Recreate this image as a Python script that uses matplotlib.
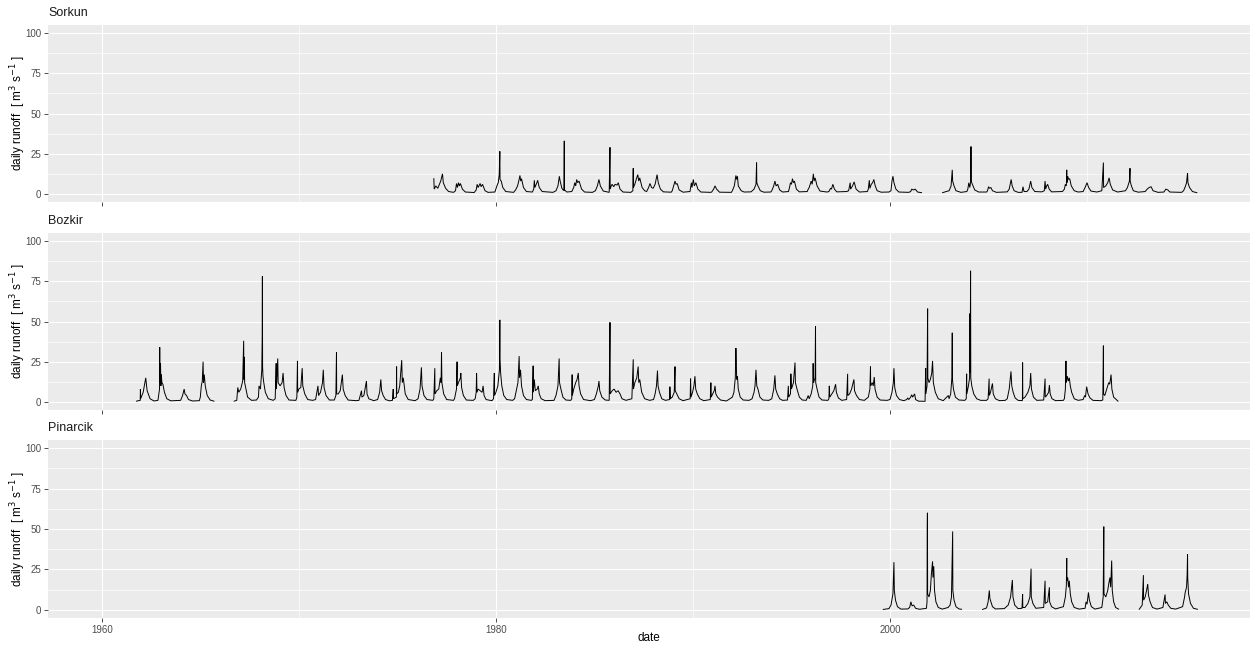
import numpy as np
import matplotlib
matplotlib.use("Agg")
import matplotlib.pyplot as plt
from matplotlib.ticker import FixedLocator

nan = np.nan

# ---- data: (decimal year, daily runoff m3/s) vertices ----
sorkun = [
(1976.85, 9.5), (1976.87, 3), (1976.95, 5), (1977.05, 3.5), (1977.2, 8), (1977.29, 12.5), (1977.33, 7), (1977.45, 3.5), (1977.6, 1.5), (1977.85, 1.0),
(1977.95, 2), (1978.0, 6.5), (1978.05, 4), (1978.1, 7), (1978.15, 5), (1978.2, 6.5), (1978.3, 3), (1978.45, 1.2), (1978.9, 0.9),
(1979.0, 2.5), (1979.05, 6), (1979.1, 4), (1979.2, 6.5), (1979.25, 4.5), (1979.32, 6), (1979.45, 2), (1979.6, 1.0), (1979.95, 1.2),
(1980.0, 3), (1980.05, 5), (1980.12, 7), (1980.17, 12), (1980.2, 26.5), (1980.21, 9), (1980.27, 8), (1980.35, 4), (1980.5, 1.5), (1980.9, 1.0),
(1981.0, 2.5), (1981.1, 5), (1981.18, 9), (1981.22, 11.5), (1981.26, 8), (1981.3, 9.5), (1981.4, 4), (1981.55, 1.5), (1981.85, 1.2),
(1981.92, 3), (1981.95, 8.5), (1981.98, 4), (1982.08, 7), (1982.12, 8.5), (1982.2, 4), (1982.35, 1.5), (1982.9, 1.0),
(1983.05, 2), (1983.15, 5), (1983.22, 11), (1983.26, 8), (1983.35, 3.5), (1983.45, 2), (1983.47, 33), (1983.48, 2.5), (1983.6, 1.2),
(1983.85, 1.5), (1983.95, 4), (1984.0, 7), (1984.05, 5), (1984.1, 9), (1984.15, 7), (1984.22, 8), (1984.35, 3), (1984.5, 1.2), (1984.9, 1.0),
(1985.05, 2), (1985.15, 5), (1985.23, 9), (1985.3, 5), (1985.45, 1.8), (1985.75, 1.0), (1985.79, 29), (1985.8, 3),
(1985.85, 5), (1985.9, 6), (1985.98, 4.5), (1986.05, 6), (1986.15, 5.5), (1986.21, 7), (1986.3, 3), (1986.45, 1.2), (1986.85, 1.0),
(1986.95, 2), (1986.97, 16), (1986.98, 4), (1987.05, 6), (1987.12, 9), (1987.2, 12), (1987.25, 8), (1987.3, 10), (1987.42, 4), (1987.55, 2),
(1987.65, 1.5), (1987.75, 4), (1987.82, 6.5), (1987.9, 4), (1987.98, 3.5), (1988.08, 6), (1988.18, 12), (1988.24, 7), (1988.35, 3), (1988.5, 1.3), (1988.9, 1.1),
(1988.95, 2), (1989.02, 5), (1989.09, 8), (1989.14, 6), (1989.2, 6.5), (1989.3, 2.5), (1989.5, 1.1),
(1989.85, 1.5), (1989.92, 7), (1989.95, 4), (1990.02, 9), (1990.07, 5), (1990.15, 7), (1990.25, 3), (1990.4, 1.2), (1990.9, 1.0),
(1990.95, 1.2), (1991.05, 3), (1991.12, 5), (1991.2, 3), (1991.35, 1.1), (1991.95, 1.0),
(1992.0, 2), (1992.1, 5), (1992.18, 11.5), (1992.22, 9), (1992.26, 11), (1992.3, 5), (1992.45, 2), (1992.6, 1.2), (1992.95, 1.3),
(1993.1, 3), (1993.2, 6), (1993.23, 19.5), (1993.24, 7), (1993.3, 5), (1993.42, 2), (1993.6, 1.1), (1993.95, 1.2),
(1994.0, 2), (1994.1, 5), (1994.16, 8), (1994.22, 5), (1994.3, 6), (1994.4, 2.5), (1994.55, 1.2), (1994.85, 1.5),
(1994.9, 4), (1994.95, 7), (1995.0, 6), (1995.05, 9.5), (1995.1, 7), (1995.15, 8), (1995.25, 3), (1995.4, 1.3), (1995.8, 1.5),
(1995.85, 3), (1995.9, 4), (1996.0, 8), (1996.05, 6), (1996.11, 12.5), (1996.15, 8), (1996.2, 10), (1996.3, 5), (1996.45, 1.8), (1996.8, 1.2),
(1996.9, 1.5), (1996.98, 3.5), (1997.03, 3), (1997.1, 6), (1997.18, 3), (1997.3, 1.3), (1997.8, 1.5),
(1997.9, 2), (1997.98, 7), (1998.0, 3), (1998.1, 5), (1998.18, 7.5), (1998.28, 3), (1998.45, 1.2), (1998.85, 1.5),
(1998.9, 3), (1998.95, 8.5), (1998.98, 3.5), (1999.05, 6), (1999.12, 7), (1999.18, 9), (1999.25, 5), (1999.35, 2), (1999.55, 1.1), (1999.95, 1.2),
(2000.05, 2), (2000.1, 8), (2000.15, 11), (2000.2, 7), (2000.3, 3), (2000.45, 1.2), (2000.95, 1.0),
(2001.05, 1.5), (2001.1, 3), (2001.2, 2.5), (2001.28, 3), (2001.4, 1.2), (2001.6, 0.8), (2001.61, nan),
(2002.67, 0.8), (2002.85, 1.5), (2003.0, 2), (2003.1, 5), (2003.16, 15), (2003.18, 8), (2003.25, 5), (2003.35, 2), (2003.6, 1.0), (2003.9, 1.5),
(2003.95, 3), (2004.0, 7), (2004.05, 4), (2004.1, 8), (2004.11, 29.5), (2004.12, 8), (2004.18, 6), (2004.3, 2.5), (2004.5, 1.2), (2004.9, 1.2),
(2004.95, 2), (2005.0, 4.5), (2005.05, 3.5), (2005.12, 4), (2005.2, 2), (2005.4, 1.0), (2005.95, 1.3),
(2006.05, 3), (2006.15, 9), (2006.2, 5), (2006.3, 2), (2006.5, 1.0),
(2006.7, 1), (2006.75, 4.5), (2006.8, 1.5), (2006.95, 1.5), (2007.05, 3), (2007.14, 8), (2007.2, 4), (2007.35, 1.5), (2007.7, 1.3),
(2007.83, 2), (2007.87, 8), (2007.9, 3), (2007.95, 5), (2008.0, 6), (2008.08, 3), (2008.2, 1.3), (2008.75, 1.5),
(2008.85, 3), (2008.9, 6), (2008.95, 5), (2008.97, 15), (2008.98, 7), (2009.02, 11), (2009.07, 9), (2009.12, 9.5), (2009.2, 5), (2009.35, 2), (2009.55, 1.2),
(2009.8, 1.5), (2009.9, 4), (2010.0, 7), (2010.08, 4), (2010.2, 1.8), (2010.5, 1.2),
(2010.75, 2), (2010.83, 19.5), (2010.84, 4), (2010.95, 5), (2011.05, 7), (2011.12, 10), (2011.18, 6), (2011.3, 2.5), (2011.55, 1.2),
(2011.95, 2), (2012.05, 4), (2012.15, 8), (2012.18, 16), (2012.19, 8), (2012.25, 5), (2012.35, 2), (2012.6, 1.1),
(2012.95, 1.5), (2013.05, 3), (2013.15, 4), (2013.25, 4.5), (2013.35, 2), (2013.6, 1.0),
(2013.9, 1.2), (2014.0, 3), (2014.1, 2.5), (2014.2, 1.2), (2014.8, 1.0),
(2014.9, 2), (2015.0, 5), (2015.05, 7), (2015.1, 13), (2015.12, 7), (2015.2, 4), (2015.35, 1.5), (2015.57, 0.8),
]

bozkir = [
(1961.76, 0.5), (1961.95, 1), (1961.96, 8), (1961.97, 2), (1962.1, 6), (1962.23, 15), (1962.3, 7), (1962.45, 2), (1962.65, 0.6),
(1962.85, 1), (1962.93, 8), (1962.94, 34), (1962.95, 12), (1962.98, 24), (1963.0, 10), (1963.02, 17), (1963.05, 12), (1963.1, 11), (1963.18, 6), (1963.3, 2), (1963.5, 0.7),
(1964.0, 1), (1964.1, 4), (1964.18, 8), (1964.22, 5), (1964.3, 4), (1964.4, 1.5), (1964.6, 0.6), (1964.95, 0.8),
(1965.0, 3), (1965.05, 10), (1965.1, 13), (1965.14, 25), (1965.16, 12), (1965.2, 17), (1965.25, 10), (1965.35, 4), (1965.5, 1.2), (1965.69, 0.5), (1965.7, nan),
(1966.72, 0.5), (1966.85, 1), (1966.9, 9), (1966.95, 6), (1967.05, 8), (1967.15, 13), (1967.2, 38), (1967.21, 14), (1967.23, 28), (1967.25, 12), (1967.3, 9), (1967.4, 3), (1967.6, 1), (1967.85, 1.2),
(1967.95, 3), (1967.98, 10), (1968.05, 8), (1968.12, 20), (1968.14, 40), (1968.15, 78), (1968.16, 22), (1968.18, 16), (1968.22, 12), (1968.3, 6), (1968.45, 2), (1968.7, 1.0),
(1968.8, 2), (1968.85, 24), (1968.86, 8), (1968.93, 27), (1968.95, 12), (1969.05, 10), (1969.15, 12), (1969.2, 18), (1969.25, 9), (1969.35, 4), (1969.5, 1.2), (1969.85, 1.0),
(1969.9, 3), (1969.93, 25.5), (1969.94, 6), (1970.0, 8), (1970.1, 9), (1970.17, 21), (1970.2, 10), (1970.3, 5), (1970.45, 1.5), (1970.7, 1.0),
(1970.85, 1.5), (1970.97, 10), (1971.0, 4), (1971.1, 6), (1971.2, 12), (1971.24, 20), (1971.28, 9), (1971.38, 4), (1971.55, 1.2),
(1971.8, 1.2), (1971.88, 4), (1971.91, 31), (1971.92, 5), (1972.0, 5), (1972.1, 7), (1972.21, 17), (1972.25, 8), (1972.35, 4), (1972.5, 1.2), (1972.9, 0.8),
(1973.05, 1), (1973.18, 7), (1973.2, 3), (1973.3, 4), (1973.43, 13), (1973.46, 5), (1973.55, 2), (1973.8, 0.8),
(1974.0, 1.5), (1974.1, 6), (1974.16, 14), (1974.2, 7), (1974.28, 4), (1974.4, 1.5), (1974.6, 0.7),
(1974.75, 1), (1974.79, 8), (1974.8, 2), (1974.95, 3), (1974.96, 22), (1974.97, 5), (1975.05, 6), (1975.12, 10), (1975.22, 26), (1975.25, 12), (1975.3, 15), (1975.4, 5), (1975.55, 1.5), (1975.9, 0.8),
(1976.05, 2), (1976.15, 8), (1976.22, 21.5), (1976.25, 10), (1976.35, 4), (1976.5, 1.5), (1976.8, 1.0),
(1976.85, 2), (1976.9, 21), (1976.91, 5), (1977.0, 7), (1977.1, 8), (1977.18, 15), (1977.22, 12), (1977.24, 31), (1977.26, 12), (1977.35, 5), (1977.5, 1.5), (1977.85, 1.0),
(1977.9, 2), (1978.0, 8), (1978.03, 25), (1978.04, 10), (1978.1, 12), (1978.2, 15), (1978.22, 18), (1978.26, 9), (1978.35, 4), (1978.5, 1.2), (1978.85, 1.0),
(1978.95, 2), (1979.0, 6), (1979.02, 18), (1979.04, 6), (1979.1, 8), (1979.2, 7), (1979.3, 6), (1979.35, 10), (1979.4, 4), (1979.5, 1.5), (1979.8, 0.8),
(1979.88, 2), (1979.92, 18), (1979.93, 4), (1980.0, 6), (1980.1, 10), (1980.18, 20), (1980.2, 51), (1980.21, 27), (1980.24, 18), (1980.3, 10), (1980.4, 4), (1980.55, 1.5), (1980.85, 1.0),
(1980.95, 2), (1981.05, 8), (1981.12, 12), (1981.18, 28.5), (1981.2, 15), (1981.25, 20), (1981.3, 10), (1981.4, 4), (1981.55, 1.5), (1981.8, 1.0),
(1981.85, 1.5), (1981.89, 22.5), (1981.9, 6), (1981.95, 14), (1982.0, 7), (1982.1, 8), (1982.15, 10), (1982.2, 5), (1982.3, 2), (1982.5, 0.8),
(1982.95, 1.0), (1983.05, 4), (1983.15, 10), (1983.21, 27), (1983.23, 12), (1983.3, 8), (1983.4, 3), (1983.55, 1.2), (1983.8, 1.0),
(1983.85, 2), (1983.87, 17), (1983.88, 4), (1983.95, 8), (1984.05, 12), (1984.12, 14), (1984.18, 18), (1984.22, 10), (1984.3, 5), (1984.45, 1.5), (1984.8, 0.8),
(1985.0, 1.5), (1985.1, 5), (1985.2, 10), (1985.23, 13), (1985.27, 7), (1985.38, 3), (1985.55, 1.2), (1985.75, 1.0),
(1985.79, 49.5), (1985.8, 5), (1985.9, 7), (1986.0, 8), (1986.1, 6), (1986.2, 7), (1986.3, 5), (1986.4, 2), (1986.6, 1.0),
(1986.9, 2), (1986.97, 26.5), (1986.98, 8), (1987.05, 12), (1987.15, 15), (1987.22, 22), (1987.25, 12), (1987.3, 14), (1987.4, 6), (1987.55, 2), (1987.8, 1.0),
(1988.0, 1.5), (1988.08, 5), (1988.15, 10), (1988.2, 19.5), (1988.23, 10), (1988.3, 6), (1988.42, 2), (1988.6, 1.0),
(1988.82, 1.5), (1988.83, 9.5), (1988.85, 2), (1988.95, 3), (1989.05, 6), (1989.09, 22), (1989.1, 7), (1989.18, 5), (1989.3, 2), (1989.5, 0.8),
(1989.86, 2), (1989.88, 14.5), (1989.9, 3), (1989.98, 6), (1990.05, 10), (1990.1, 16), (1990.14, 8), (1990.22, 5), (1990.35, 2), (1990.55, 0.8),
(1990.88, 1.5), (1990.91, 12), (1990.93, 3), (1991.0, 5), (1991.08, 7), (1991.12, 10), (1991.16, 5), (1991.25, 3), (1991.4, 1.2), (1991.7, 0.6),
(1992.0, 3), (1992.08, 6), (1992.15, 15), (1992.18, 33.5), (1992.2, 25), (1992.22, 14), (1992.26, 16), (1992.3, 8), (1992.4, 3), (1992.55, 1.2), (1992.85, 1.0),
(1993.0, 2), (1993.1, 6), (1993.15, 10), (1993.2, 20), (1993.24, 10), (1993.3, 8), (1993.4, 3), (1993.55, 1.2), (1993.85, 1.0),
(1994.0, 2), (1994.1, 8), (1994.16, 16.5), (1994.2, 8), (1994.28, 5), (1994.4, 2), (1994.55, 1.0),
(1994.8, 1.2), (1994.84, 10), (1994.86, 3), (1994.95, 5), (1994.97, 17.5), (1995.0, 8), (1995.1, 12), (1995.18, 24.5), (1995.2, 12), (1995.28, 8), (1995.4, 3), (1995.55, 1.2), (1995.75, 1.0),
(1995.85, 4), (1995.9, 2), (1996.0, 5), (1996.08, 10), (1996.1, 24), (1996.12, 12), (1996.2, 15), (1996.22, 47), (1996.23, 12), (1996.3, 8), (1996.4, 3), (1996.55, 1.2), (1996.85, 1.0),
(1996.9, 2), (1996.92, 10), (1996.94, 3), (1997.05, 5), (1997.15, 7), (1997.24, 11), (1997.28, 6), (1997.38, 2.5), (1997.55, 1.0),
(1997.8, 1.5), (1997.85, 17.5), (1997.86, 4), (1997.95, 5), (1998.05, 8), (1998.17, 14), (1998.2, 7), (1998.3, 4), (1998.45, 1.5), (1998.7, 1.0),
(1998.9, 3), (1998.98, 8), (1999.01, 22), (1999.02, 10), (1999.1, 12), (1999.15, 10), (1999.2, 15.5), (1999.24, 8), (1999.35, 3), (1999.5, 1.2), (1999.85, 1.0),
(2000.0, 1.5), (2000.1, 6), (2000.17, 12), (2000.2, 21), (2000.24, 9), (2000.33, 4), (2000.48, 1.5), (2000.7, 0.8),
(2000.85, 1.5), (2000.9, 2.5), (2000.95, 1.5), (2001.05, 3), (2001.1, 4.5), (2001.15, 3), (2001.25, 5), (2001.3, 1.5), (2001.45, 0.5), (2001.78, 0.4),
(2001.81, 21), (2001.82, 5), (2001.88, 10), (2001.91, 58), (2001.92, 15), (2001.98, 12), (2002.05, 14), (2002.12, 18), (2002.16, 25.5), (2002.2, 12), (2002.3, 6), (2002.45, 2), (2002.7, 0.8),
(2002.96, 4), (2003.0, 2), (2003.08, 5), (2003.14, 15), (2003.16, 43), (2003.17, 14), (2003.22, 8), (2003.32, 3), (2003.5, 1.2), (2003.8, 1.0),
(2003.87, 2), (2003.89, 17.5), (2003.9, 5), (2003.98, 10), (2004.04, 15), (2004.06, 55), (2004.07, 18), (2004.09, 81.5), (2004.1, 15), (2004.15, 10), (2004.25, 5), (2004.4, 2), (2004.6, 1.0), (2004.9, 1.0),
(2004.98, 2), (2005.03, 14.5), (2005.04, 4), (2005.1, 6), (2005.2, 11.5), (2005.24, 5), (2005.35, 2), (2005.55, 0.8), (2005.85, 1.0),
(2005.95, 2), (2006.05, 8), (2006.1, 14), (2006.14, 19), (2006.18, 10), (2006.25, 6), (2006.35, 2.5), (2006.5, 1.0), (2006.7, 0.8),
(2006.72, 1), (2006.73, 24.5), (2006.74, 2), (2006.85, 3), (2007.0, 6), (2007.1, 10), (2007.14, 18), (2007.18, 8), (2007.28, 3), (2007.45, 1.0),
(2007.8, 1.2), (2007.87, 14.5), (2007.88, 3), (2007.95, 4), (2008.05, 6), (2008.09, 10.5), (2008.13, 5), (2008.22, 2), (2008.4, 0.8), (2008.8, 1.0),
(2008.85, 2), (2008.9, 8), (2008.93, 25.5), (2008.95, 12), (2009.0, 16), (2009.05, 13), (2009.1, 15), (2009.15, 10), (2009.22, 6), (2009.35, 2), (2009.55, 1.0),
(2009.8, 1.5), (2009.88, 4), (2009.92, 3), (2009.98, 9.5), (2010.05, 5), (2010.15, 2.5), (2010.3, 1.0), (2010.7, 0.8),
(2010.8, 1.2), (2010.83, 35), (2010.84, 5), (2010.9, 4), (2011.0, 8), (2011.1, 12), (2011.15, 11), (2011.22, 17), (2011.26, 8), (2011.35, 3), (2011.57, 0.5),
]

pinarcik = [
(1999.66, 0.3), (1999.95, 0.8), (2000.05, 3), (2000.15, 10), (2000.2, 29.5), (2000.22, 12), (2000.28, 6), (2000.38, 2), (2000.55, 0.5),
(2000.9, 0.6), (2001.0, 1.5), (2001.06, 5), (2001.12, 2.5), (2001.2, 3), (2001.3, 1), (2001.5, 0.4),
(2001.85, 1), (2001.88, 5), (2001.89, 51), (2001.9, 60), (2001.91, 10), (2001.98, 8), (2002.05, 12), (2002.1, 22), (2002.16, 30), (2002.18, 20), (2002.22, 27), (2002.26, 12), (2002.33, 5), (2002.45, 1.5), (2002.65, 0.5),
(2002.95, 1.5), (2003.05, 3), (2003.12, 8), (2003.18, 48.5), (2003.19, 12), (2003.25, 6), (2003.35, 2), (2003.5, 0.6), (2003.63, 0.4), (2003.64, nan),
(2004.7, 0.3), (2004.9, 1.2), (2004.98, 5), (2005.04, 12), (2005.07, 7), (2005.12, 5), (2005.2, 2), (2005.35, 0.6),
(2005.8, 0.8), (2006.0, 3), (2006.12, 8), (2006.21, 18.5), (2006.24, 8), (2006.33, 3), (2006.5, 0.8),
(2006.7, 1.0), (2006.73, 9.8), (2006.74, 1.5), (2006.85, 1.5), (2007.0, 4), (2007.1, 8), (2007.16, 25.5), (2007.17, 8), (2007.25, 4), (2007.4, 1.0),
(2007.8, 1.5), (2007.87, 18), (2007.88, 4), (2008.0, 5), (2008.09, 14), (2008.1, 5), (2008.2, 2), (2008.4, 0.6),
(2008.8, 2), (2008.9, 8), (2008.95, 15), (2008.97, 32), (2008.98, 18), (2009.02, 20), (2009.06, 14), (2009.1, 18), (2009.15, 10), (2009.22, 5), (2009.35, 1.5), (2009.6, 0.5),
(2009.9, 1), (2009.95, 5), (2010.0, 3.5), (2010.07, 10.8), (2010.12, 6), (2010.22, 2), (2010.4, 0.5),
(2010.75, 1.5), (2010.82, 8), (2010.84, 41), (2010.85, 51.5), (2010.86, 10), (2010.95, 8), (2011.05, 12), (2011.1, 16), (2011.16, 20), (2011.2, 14), (2011.25, 30.5), (2011.28, 12), (2011.35, 5), (2011.45, 1.5), (2011.6, 0.5), (2011.61, nan),
(2012.65, 0.4), (2012.8, 3), (2012.86, 21.5), (2012.87, 6), (2012.95, 8), (2013.02, 12), (2013.08, 16), (2013.12, 9), (2013.2, 5), (2013.32, 1.5), (2013.55, 0.5),
(2013.85, 1.5), (2013.96, 9.5), (2013.98, 4), (2014.05, 5), (2014.12, 3), (2014.25, 1), (2014.5, 0.5),
(2014.85, 2), (2014.95, 8), (2014.98, 10.8), (2015.05, 14), (2015.08, 22), (2015.1, 34.5), (2015.11, 20), (2015.15, 10), (2015.25, 4), (2015.4, 1), (2015.6, 0.4),
]

stations = ["Sorkun", "Bozkir", "Pinarcik"]
series = [sorkun, bozkir, pinarcik]
y_ticks = [0, 25, 50, 75, 100]
x_ticks = [1960, 1980, 2000]
x_tick_labels = ["1960", "1980", "2000"]

# ---- styling ----
plt.rcParams["font.family"] = ["Liberation Sans", "DejaVu Sans"]
W, H = 1254, 645
fig = plt.figure(figsize=(W / 100, H / 100), dpi=100)
fig.patch.set_facecolor("white")

panel_px = [(25, 202), (233, 410), (440, 618)]
left_px, right_px = 48, 1250
xlim = (1957.27, 2018.27)
ylim = (-5, 105)

for i, (name, data, (top, bot)) in enumerate(zip(stations, series, panel_px)):
    ax = fig.add_axes([left_px / W, 1 - bot / H, (right_px - left_px) / W, (bot - top) / H])
    ax.set_facecolor("#EBEBEB")
    for s in ax.spines.values():
        s.set_visible(False)
    arr = np.array(data, dtype=float)
    ax.plot(arr[:, 0], arr[:, 1], color="black", lw=0.7, solid_joinstyle="miter")
    ax.set_xlim(*xlim)
    ax.set_ylim(*ylim)
    ax.yaxis.set_major_locator(FixedLocator(y_ticks))
    ax.yaxis.set_minor_locator(FixedLocator([12.5, 37.5, 62.5, 87.5]))
    ax.xaxis.set_major_locator(FixedLocator(x_ticks))
    ax.xaxis.set_minor_locator(FixedLocator([1970, 1990, 2010]))
    ax.grid(which="major", color="white", lw=0.85)
    ax.grid(which="minor", color="white", lw=0.45)
    ax.set_axisbelow(True)
    ax.tick_params(which="major", length=3, width=0.6, color="#333333",
                   labelsize=7, labelcolor="#4D4D4D", pad=2)
    ax.tick_params(which="minor", length=0)
    ax.set_yticklabels([str(v) for v in y_ticks])
    if i == len(stations) - 1:
        ax.set_xticklabels(x_tick_labels)
    else:
        ax.set_xticklabels([])
    ax.text(0.0, 1.035, name, transform=ax.transAxes, ha="left", va="bottom",
            fontsize=9, color="#1A1A1A")
    fig.text(18 / W, 1 - (top + bot) / 2 / H,
             r"daily runoff  [ m$^3$ s$^{-1}$ ]", rotation=90,
             ha="center", va="center", fontsize=8.5, color="black")

fig.text((left_px + right_px) / 2 / W, 1 - 638 / H, "date", ha="center", va="center",
         fontsize=8.5, color="black")

fig.savefig("out.png", dpi=100)
